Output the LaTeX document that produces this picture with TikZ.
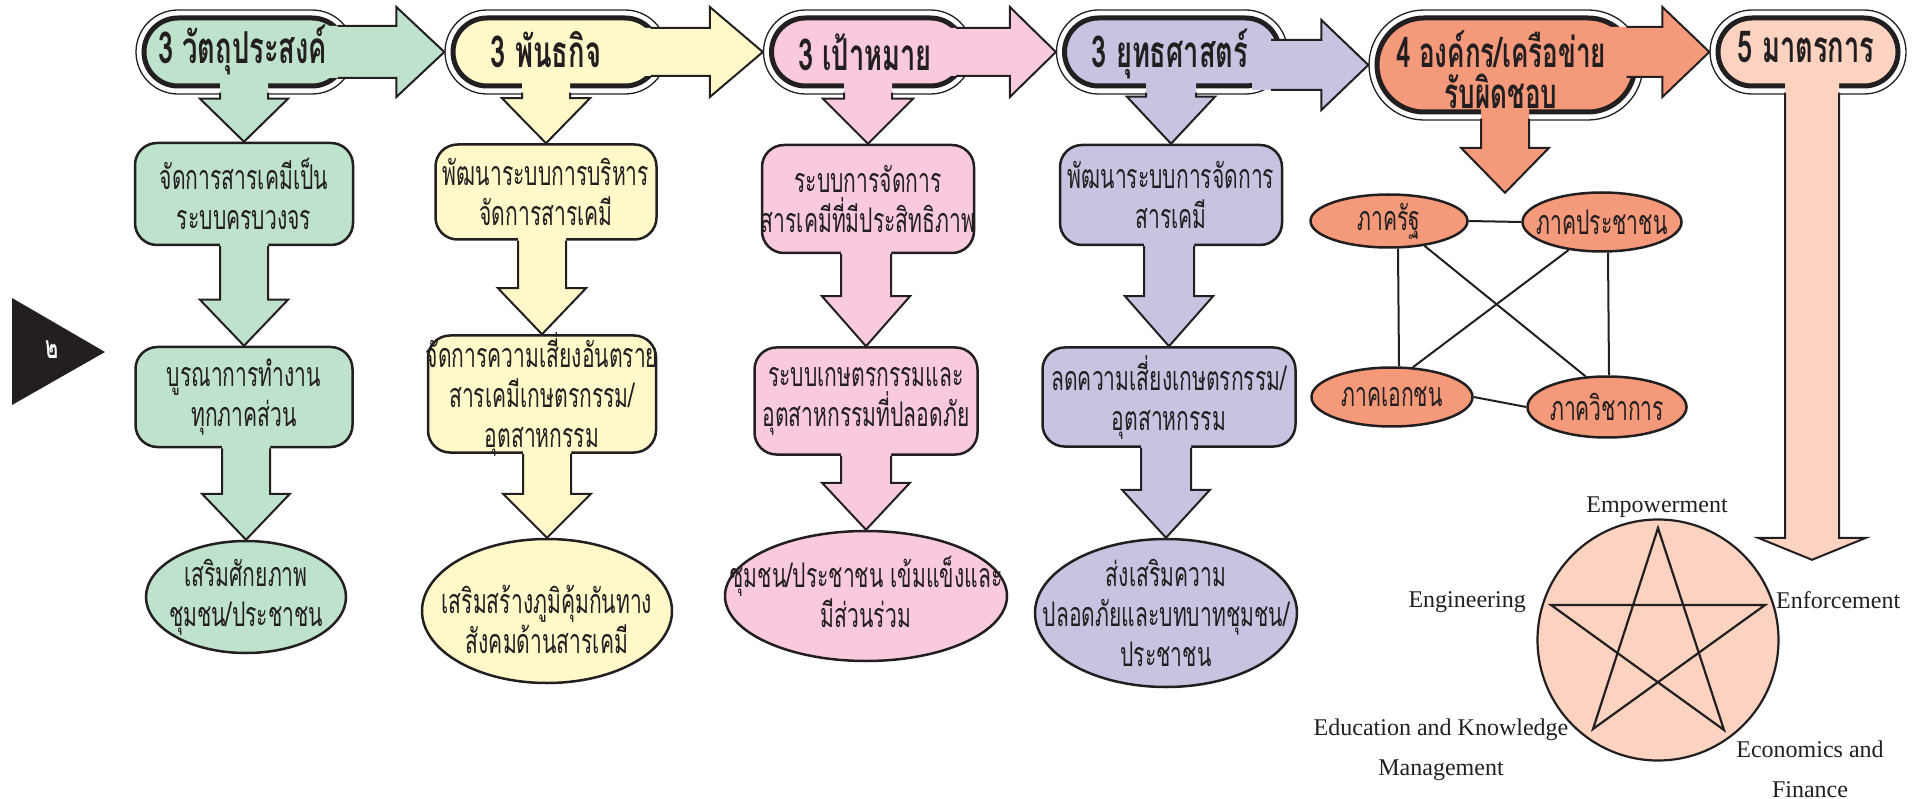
\documentclass[tikz,border=0pt]{standalone}
\usepackage{fontspec}
\setmainfont{Liberation Serif}
\newfontfamily\thf[Script=Thai, FakeStretch=0.62]{Loma}
\usetikzlibrary{shapes.geometric,shapes.misc,calc}
\definecolor{ink}{HTML}{231F20}
\definecolor{cgreen}{HTML}{BFE2CC}
\definecolor{cyellow}{HTML}{FFF9C9}
\definecolor{cpink}{HTML}{F8C9DF}
\definecolor{cpurple}{HTML}{C7C4E1}
\definecolor{corange}{HTML}{F5997B}
\definecolor{cpeach}{HTML}{FBD3C0}
% down block arrow between two nodes
\newcommand\dnarr[6]{%
  \fill[#3] ($(#1.south -| #2.north)+(-#4,-6)$) -- ($(#2.north)+(-#4,-#6)$) -- ($(#2.north)+(-#5,-#6)$) -- (#2.north)
     -- ($(#2.north)+(#5,-#6)$) -- ($(#2.north)+(#4,-#6)$) -- ($(#1.south -| #2.north)+(#4,-6)$) -- cycle;
  \draw[arrline] ($(#1.south -| #2.north)+(-#4,0)$) -- ($(#2.north)+(-#4,-#6)$) -- ($(#2.north)+(-#5,-#6)$) -- (#2.north)
     -- ($(#2.north)+(#5,-#6)$) -- ($(#2.north)+(#4,-#6)$) -- ($(#1.south -| #2.north)+(#4,0)$);}
% down block arrow out of a header pill
\newcommand\pdnarr[7]{%
  \fill[#4] ($(#1.south -| #3.north)+(-#5,-14)$) -- ($(#3.north)+(-#5,-#7)$) -- ($(#3.north)+(-#6,-#7)$) -- (#3.north)
     -- ($(#3.north)+(#6,-#7)$) -- ($(#3.north)+(#5,-#7)$) -- ($(#1.south -| #3.north)+(#5,-14)$) -- cycle;
  \draw[arrline] ($(#2.south -| #3.north)+(-#5,-2)$) -- ($(#3.north)+(-#5,-#7)$) -- ($(#3.north)+(-#6,-#7)$) -- (#3.north)
     -- ($(#3.north)+(#6,-#7)$) -- ($(#3.north)+(#5,-#7)$) -- ($(#2.south -| #3.north)+(#5,-2)$);}
% right block arrow from a pill to the next pill
\newcommand\rtarr[6]{%
  \fill[#3] ($(#1.east |- #2.center)+(-30,-#4)$) -- ($(#2.west)+(-#6,-#4)$) -- ($(#2.west)+(-#6,-#5)$) -- (#2.west)
     -- ($(#2.west)+(-#6,#5)$) -- ($(#2.west)+(-#6,#4)$) -- ($(#1.east |- #2.center)+(-30,#4)$) -- cycle;
  \draw[arrline] ($(#1.east |- #2.center)+(-11,-#4)$) -- ($(#2.west)+(-#6,-#4)$) -- ($(#2.west)+(-#6,-#5)$) -- (#2.west)
     -- ($(#2.west)+(-#6,#5)$) -- ($(#2.west)+(-#6,#4)$) -- ($(#1.east |- #2.center)+(-11,#4)$);}
\begin{document}
\begin{tikzpicture}[x=1pt,y=-1pt,
  pillout/.style={rounded rectangle, draw=ink, line width=1.3pt, fill=white, inner sep=0pt},
  pillin/.style={rounded rectangle, draw=ink, line width=5pt, inner sep=0pt},
  rbox/.style={rectangle, rounded corners=22pt, draw=ink, line width=2.5pt, inner sep=0pt},
  ell/.style={ellipse, draw=ink, line width=2.5pt, inner sep=0pt},
  txt/.style={font=\thf\fontsize{34}{40}\selectfont, align=center, inner sep=0pt, text=ink},
  hdtxt/.style={font=\thf\bfseries\fontsize{44}{36}\selectfont, align=center, inner sep=0pt, text=ink},
  arrline/.style={draw=ink, line width=2pt, line join=miter},
  netline/.style={draw=ink, line width=2pt},
  en/.style={font=\fontsize{24}{40}\selectfont, align=center, inner sep=0pt, text=ink},
  tipnode/.style={inner sep=0pt, minimum size=0pt}]
\useasboundingbox (0,0) rectangle (1916,799);

% ---- side tab
\fill[ink] (12,298) -- (12,405) -- (105,352) -- cycle;
\node[font=\thf\bfseries\fontsize{32}{32}\selectfont, text=white, inner sep=0pt] (tab) at (52,350) {๒};

% ---- header pills
\node[pillout, minimum width=218pt, minimum height=84pt] (o1) at (245,52) {};
\node[pillin, fill=cgreen, minimum width=202pt, minimum height=68pt] (p1) at (245,52) {};
\node[pillout, minimum width=222pt, minimum height=84pt] (o2) at (556,52) {};
\node[pillin, fill=cyellow, minimum width=206pt, minimum height=68pt] (p2) at (556,52) {};
\node[pillout, minimum width=209pt, minimum height=84pt] (o3) at (868,52) {};
\node[pillin, fill=cpink, minimum width=193pt, minimum height=68pt] (p3) at (868,52) {};
\node[pillout, minimum width=231pt, minimum height=84pt] (o4) at (1172,52) {};
\node[pillin, fill=cpurple, minimum width=215pt, minimum height=68pt] (p4) at (1172,52) {};
\node[pillout, minimum width=274pt, minimum height=110pt] (o5) at (1506,65) {};
\node[pillin, fill=corange, minimum width=258pt, minimum height=94pt] (p5) at (1506,65) {};
\node[pillout, minimum width=196pt, minimum height=84pt] (o6) at (1808,52) {};
\node[pillin, fill=cpeach, minimum width=180pt, minimum height=68pt] (p6) at (1808,52) {};

% ---- content nodes
\node[rbox, fill=cgreen, minimum width=218pt, minimum height=102pt] (g1) at (244,194) {};
\node[rbox, fill=cgreen, minimum width=217pt, minimum height=100pt] (g2) at (244,397) {};
\node[ell, fill=cgreen, minimum width=200pt, minimum height=112pt] (g3) at (246,597) {};

\node[rbox, fill=cyellow, minimum width=221pt, minimum height=95pt] (y1) at (546,192) {};
\node[rbox, fill=cyellow, minimum width=228pt, minimum height=117pt] (y2) at (542,394) {};
\node[ell, fill=cyellow, minimum width=250pt, minimum height=144pt] (y3) at (547,611) {};

\node[rbox, fill=cpink, minimum width=212pt, minimum height=108pt] (k1) at (868,199) {};
\node[rbox, fill=cpink, minimum width=223pt, minimum height=107pt] (k2) at (866,401) {};
\node[ell, fill=cpink, minimum width=282pt, minimum height=130pt] (k3) at (866,596) {};

\node[rbox, fill=cpurple, minimum width=222pt, minimum height=100pt] (u1) at (1171,195) {};
\node[rbox, fill=cpurple, minimum width=253pt, minimum height=99pt] (u2) at (1169,397) {};
\node[ell, fill=cpurple, minimum width=262pt, minimum height=148pt] (u3) at (1166,613) {};

\node[ell, fill=corange, minimum width=157pt, minimum height=53pt] (e1) at (1389,221) {};
\node[ell, fill=corange, minimum width=159pt, minimum height=59pt] (e2) at (1602,222) {};
\node[ell, fill=corange, minimum width=161pt, minimum height=59pt] (e3) at (1392,397) {};
\node[ell, fill=corange, minimum width=159pt, minimum height=61pt] (e4) at (1607,407) {};

\node[circle, draw=ink, line width=2.2pt, fill=cpeach, minimum size=241pt, inner sep=0pt] (pent) at (1658,640) {};

\node[tipnode] (d5tip) at (1505,193) {};
\node[tipnode] (d6tip) at (1812,560) {};

% ---- right arrows between pills
\rtarr{p1}{o2}{cgreen}{26}{45}{48}
\rtarr{p2}{o3}{cyellow}{24}{45}{53}
\rtarr{p3}{o4}{cpink}{24}{45}{46}
\rtarr{p4}{o5}{cpurple}{25}{45}{47}
\rtarr{p5}{o6}{corange}{25}{45}{47}

% ---- down arrows out of pills
\pdnarr{p1}{o1}{g1}{cgreen}{24}{44}{43}
\pdnarr{p2}{o2}{y1}{cyellow}{24}{44}{45}
\pdnarr{p3}{o3}{k1}{cpink}{24}{45}{45}
\pdnarr{p4}{o4}{u1}{cpurple}{25}{44}{47}
\pdnarr{p5}{o5}{d5tip}{corange}{24}{44}{45}
\pdnarr{p6}{o6}{d6tip}{cpeach}{27}{54}{22}

% ---- down arrows between boxes
\dnarr{g1}{g2}{cgreen}{24}{44}{46}
\dnarr{g2}{g3}{cgreen}{24}{44}{46}
\dnarr{y1}{y2}{cyellow}{24}{44}{46}
\dnarr{y2}{y3}{cyellow}{24}{44}{44}
\dnarr{k1}{k2}{cpink}{25}{44}{50}
\dnarr{k2}{k3}{cpink}{25}{44}{47}
\dnarr{u1}{u2}{cpurple}{25}{44}{50}
\dnarr{u2}{u3}{cpurple}{25}{44}{48}

% ---- network lines
\draw[netline] (e1.east) -- (e2.west);
\draw[netline] (e3.east) -- (e4.west);
\draw[netline] ($(e1.south)+(9,0)$) -- ($(e3.north)+(7,0)$);
\draw[netline] ($(e2.south)+(6,0)$) -- ($(e4.north)+(2,0)$);
\draw[netline] (e1.-35) -- (e4.125);
\draw[netline] (e2.-140) -- (e3.55);

% ---- star
\coordinate (sT) at (1658,528);
\coordinate (sL) at (1551,605);
\coordinate (sR) at (1765,605);
\coordinate (sBL) at (1593,729);
\coordinate (sBR) at (1724,730);
\draw[ink, line width=2.2pt, line join=miter] (sT) -- (sBL) -- (sR) -- (sL) -- (sBR) -- cycle;

% ---- texts
\node[hdtxt, anchor=west] (h1) at (158,50) {3 วัตถุประสงค์};
\node[hdtxt] (h2) at (546,50) {3 พันธกิจ};
\node[hdtxt] (h3) at (865,52) {3 เป้าหมาย};
\node[hdtxt] (h4) at (1170,54) {3 ยุทธศาสตร์};
\node[hdtxt, font=\thf\bfseries\fontsize{42}{41}\selectfont] (h5) at (1501,70) {4 องค์กร/เครือข่าย\\รับผิดชอบ};
\node[hdtxt] (h6) at (1806,47) {5 มาตรการ};

\node[txt] at (g1) {จัดการสารเคมีเป็น\\ระบบครบวงจร};
\node[txt] at (g2) {บูรณาการทำงาน\\ทุกภาคส่วน};
\node[txt] at (g3) {เสริมศักยภาพ\\ชุมชน/ประชาชน};
\node[txt] at (y1) {พัฒนาระบบการบริหาร\\จัดการสารเคมี};
\node[txt] at (y2) {จัดการความเสี่ยงอันตราย\\สารเคมีเกษตรกรรม/\\อุตสาหกรรม};
\node[txt] at ($(y3)+(0,8)$) {เสริมสร้างภูมิคุ้มกันทาง\\สังคมด้านสารเคมี};
\node[txt] at ($(k3)+(0,-4)$) {ชุมชน/ประชาชน เข้มแข็งและ\\มีส่วนร่วม};
\node[txt] at (k1) {ระบบการจัดการ\\สารเคมีที่มีประสิทธิภาพ};
\node[txt] at (k2) {ระบบเกษตรกรรมและ\\อุตสาหกรรมที่ปลอดภัย};
\node[txt] at (u1) {พัฒนาระบบการจัดการ\\สารเคมี};
\node[txt] at (u2) {ลดความเสี่ยงเกษตรกรรม/\\อุตสาหกรรม};
\node[txt] at (u3) {ส่งเสริมความ\\ปลอดภัยและบทบาทชุมชน/\\ประชาชน};
\node[txt] at (e1) {ภาครัฐ};
\node[txt] at (e2) {ภาคประชาชน};
\node[txt] at (e3) {ภาคเอกชน};
\node[txt] at (e4) {ภาควิชาการ};

\node[en] (l1) at (1657,507) {Empowerment};
\node[en, anchor=east] (l2) at (1526,602) {Engineering};
\node[en, anchor=west] (l3) at (1776,600) {Enforcement};
\node[en] (l4) at (1441,750) {Education and Knowledge\\Management};
\node[en] (l5) at (1810,769) {Economics and\\Finance};
\end{tikzpicture}
\end{document}
